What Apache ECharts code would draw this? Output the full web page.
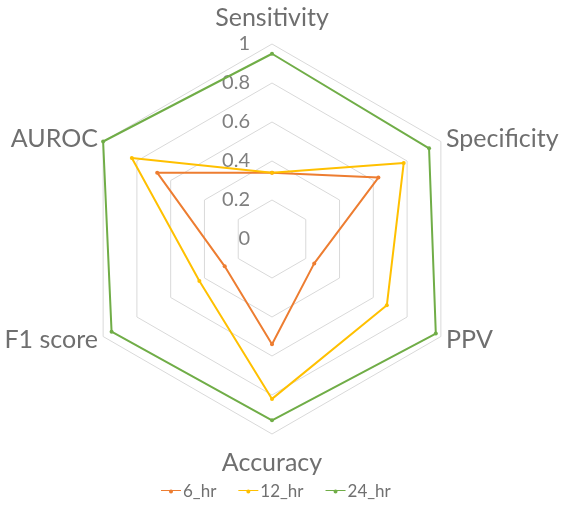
<!DOCTYPE html>
<html>
<head>
  <meta charset="UTF-8">
  <title>Radar</title>
  <script src="https://cdn.jsdelivr.net/npm/echarts@6/dist/echarts.min.js"></script>
  <style>
    body { margin: 0; background: #fff; }
    #chart { width: 566px; height: 514px; }
  </style>
</head>
<body>
  <div id="chart"></div>
  <script>
    // indicators, listed clockwise from the top as in the reference
    const metrics = ['Sensitivity', 'Specificity', 'PPV', 'Accuracy', 'F1 score', 'AUROC'];
    const hr6  = [0.34, 0.63, 0.25, 0.54, 0.28, 0.68];
    const hr12 = [0.34, 0.78, 0.68, 0.82, 0.43, 0.83];
    const hr24 = [0.95, 0.93, 0.97, 0.93, 0.95, 1.00];
    const seriesNames = ['6_hr', '12_hr', '24_hr'];
    const colors = ['#ED7D31', '#FFC000', '#70AD47'];

    const chart = echarts.init(document.getElementById('chart'));

    // ECharts lays the indicators out counterclockwise, so reverse all but the first
    const order = [0, 5, 4, 3, 2, 1];
    const nameGaps = { 0: 14, 3: 16 };
    const indicator = order.map((i, k) => {
      const ind = { name: metrics[i], min: 0, max: 1, nameGap: nameGaps[i] || 6 };
      if (k === 0) ind.axisLabel = { show: true };
      return ind;
    });
    const pick = arr => order.map(i => arr[i]);

    // thin line with a small dot, like the office legend keys
    const legendIcon = 'path://M0,4.4H20V5.6H0Z M10,8A2,2 0 1,1 10.01,8Z';

    const option = {
      animation: false,
      color: colors,
      legend: {
        bottom: 9,
        left: 156,
        icon: legendIcon,
        itemWidth: 20,
        itemHeight: 10,
        itemGap: 22,
        textStyle: { color: '#707070', fontSize: 17, fontFamily: 'Lato', padding: [0, 0, 0, -3] },
        data: seriesNames
      },
      radar: {
        center: [272, 239],
        radius: 195,
        splitNumber: 5,
        startAngle: 90,
        nameGap: 6,
        axisName: { color: '#6f6f6f', fontSize: 25, fontFamily: 'Lato' },
        axisLine: { show: false },
        axisTick: { show: false },
        splitArea: { show: false },
        splitLine: { lineStyle: { color: '#d9d9d9', width: 1 } },
        axisLabel: {
          show: false,
          color: '#7f7f7f',
          fontSize: 20,
          fontFamily: 'Lato',
          margin: 22,
          showMinLabel: true,
          showMaxLabel: true,
          formatter: v => String(Math.round(v * 10) / 10)
        },
        indicator: indicator
      },
      series: [{
        type: 'radar',
        symbol: 'circle',
        symbolSize: 4,
        lineStyle: { width: 2 },
        data: [
          { name: seriesNames[0], value: pick(hr6) },
          { name: seriesNames[1], value: pick(hr12) },
          { name: seriesNames[2], value: pick(hr24) }
        ]
      }]
    };
    chart.setOption(option);
  </script>
</body>
</html>
